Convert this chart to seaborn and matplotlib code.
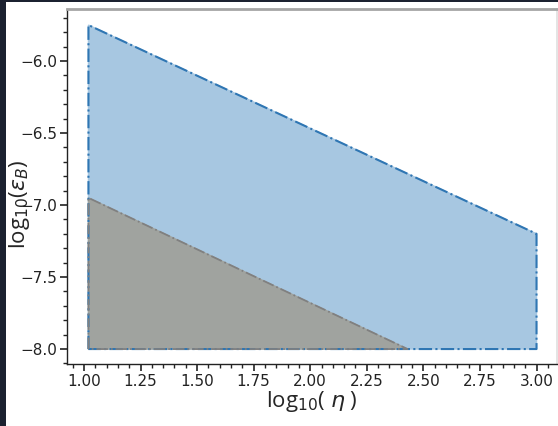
import numpy as np
import pandas as pd
import matplotlib.pyplot as plt
import matplotlib.patches as mpatches
from matplotlib.ticker import MultipleLocator
import seaborn as sns

# allowed region (blue) and sub-region (grey), in log10 space
blue_x = [1.02, 1.02, 3.0, 3.0, 1.02]
blue_y = [-8.0, -5.75, -7.2, -8.0, -8.0]
grey_x = [1.02, 1.02, 2.43, 1.02]
grey_y = [-8.0, -6.95, -8.0, -8.0]

x_ticks = [1.00, 1.25, 1.50, 1.75, 2.00, 2.25, 2.50, 2.75, 3.00]
y_ticks = [-8.0, -7.5, -7.0, -6.5, -6.0]

sns.set_theme(style="ticks")
plt.rcParams['font.family'] = ['Liberation Sans Narrow', 'DejaVu Sans']
plt.rcParams['mathtext.fontset'] = 'dejavusans'

fig = plt.figure(figsize=(5.58, 4.26), dpi=100)
fig.patch.set_facecolor('#1b2130')
fig.patches.append(mpatches.Rectangle((6 / 558, 0), 1, 1 - 2 / 426, transform=fig.transFigure,
                                      facecolor='white', edgecolor='none', zorder=-5))
ax = fig.add_axes([0.120, 0.1455, 0.878, 0.8345])
ax.set_zorder(2)

blue = pd.DataFrame({"x": blue_x, "y": blue_y})
grey = pd.DataFrame({"x": grey_x, "y": grey_y})

ax.fill(blue.x, blue.y, color='#a7c7e1', zorder=1)
ax.fill(grey.x, grey.y, color='#a0a39f', zorder=2)
sns.lineplot(data=blue, x="x", y="y", sort=False, estimator=None, ax=ax,
             color='#2f76b3', linestyle='-.', linewidth=1.5, zorder=3)
sns.lineplot(data=grey, x="x", y="y", sort=False, estimator=None, ax=ax,
             color='#808080', linestyle='-.', linewidth=1.3, zorder=4)

ax.set_xlim(0.925, 3.09)
ax.set_ylim(-8.104, -5.635)
ax.set_xticks(x_ticks)
ax.set_yticks(y_ticks)
ax.set_xticklabels([f"{v:.2f}" for v in x_ticks])
ax.set_yticklabels([f"{v:.1f}".replace('-', '\u2212') for v in y_ticks])
ax.xaxis.set_minor_locator(MultipleLocator(0.05))
ax.yaxis.set_minor_locator(MultipleLocator(0.1))
ax.tick_params(which='major', direction='out', length=5, width=1.2, labelsize=11, colors='#222222', pad=2)
ax.tick_params(which='minor', direction='out', length=3, width=1.0, colors='#222222')

ax.set_xlabel(r"log$_{10}$( $\eta$ )", fontsize=16, family=['Open Sans', 'DejaVu Sans'], labelpad=0)
ax.set_ylabel(r"log$_{10}$($\epsilon_B$)", fontsize=16, family=['Open Sans', 'DejaVu Sans'])
ax.yaxis.set_label_coords(-0.072, 0.45)

for side in ['left', 'bottom']:
    ax.spines[side].set_color('#222222')
    ax.spines[side].set_linewidth(1.0)
ax.spines['top'].set_color('#a5a5a5')
ax.spines['top'].set_linewidth(2.0)
ax.spines['right'].set_color('#e0e0e0')

fig.savefig('out.png', dpi=100, facecolor=fig.get_facecolor())
